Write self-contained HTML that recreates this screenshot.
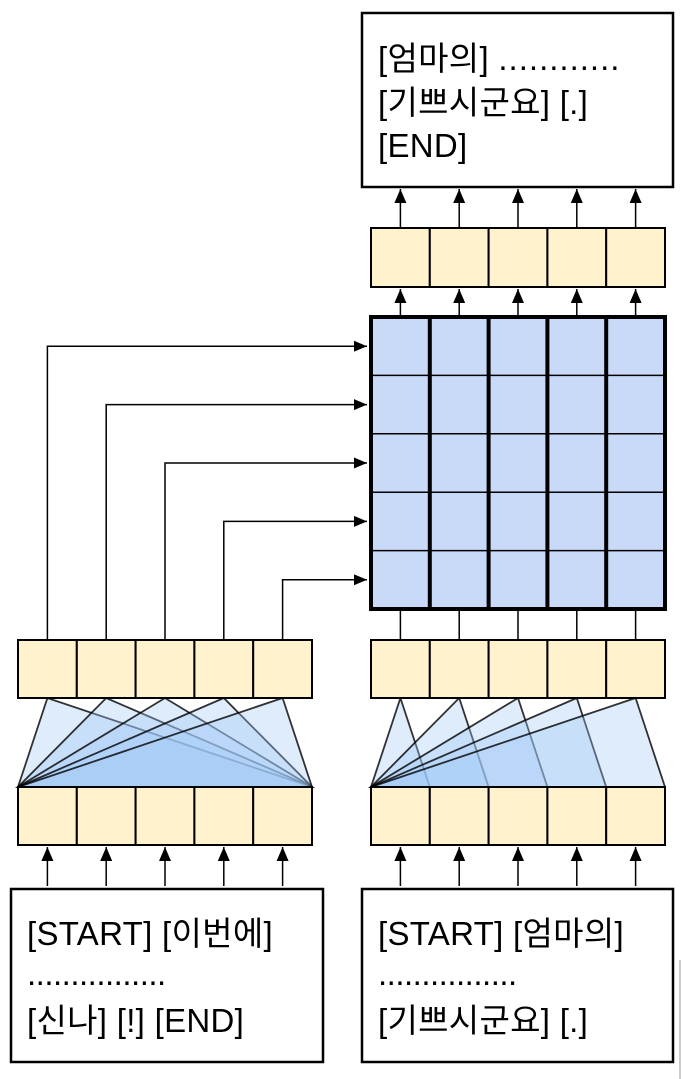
<!DOCTYPE html>
<html><head><meta charset="utf-8"><style>
html,body{margin:0;padding:0;background:#fff;}
svg{display:block}
text{font-family:"Liberation Sans","Noto Sans CJK KR",sans-serif;font-size:33px;fill:#000;letter-spacing:0.3px}
</style></head><body>
<svg id="s" width="683" height="1079" viewBox="0 0 683 1079" xmlns="http://www.w3.org/2000/svg">
<defs><marker id="ah" markerWidth="12" markerHeight="14" refX="6" refY="0" orient="0" markerUnits="userSpaceOnUse" viewBox="0 0 12 14"><path d="M0,14 L6,0 L12,14 Z" fill="#000"/></marker>
<marker id="ar" markerWidth="13" markerHeight="11" refX="13" refY="5.5" orient="0" markerUnits="userSpaceOnUse" viewBox="0 0 13 11"><path d="M0,0 L13,5.5 L0,11 Z" fill="#000"/></marker></defs>
<line x1="680" y1="960" x2="680" y2="1079" stroke="#ccc" stroke-width="2"/>
<g id="g"></g>
<rect x="362" y="13" width="311" height="174" fill="#fff" stroke="#000" stroke-width="2.5"/>
<text><tspan x="378" y="70">[엄마의] <tspan letter-spacing="1">............</tspan></tspan><tspan x="378" y="114">[기쁘시군요] [.]</tspan><tspan x="378" y="157">[END]</tspan></text>
<rect x="11" y="889" width="312" height="173" fill="#fff" stroke="#000" stroke-width="2.5"/>
<text><tspan x="27" y="945">[START] [이번에]</tspan><tspan x="27" y="985" letter-spacing="-0.5">................</tspan><tspan x="27" y="1032">[신나] [!] [END]</tspan></text>
<rect x="362" y="889" width="311" height="173" fill="#fff" stroke="#000" stroke-width="2.5"/>
<text><tspan x="378" y="945">[START] [엄마의]</tspan><tspan x="378" y="985" letter-spacing="-0.5">................</tspan><tspan x="378" y="1032">[기쁘시군요] [.]</tspan></text>
</svg>
<script>
const NS="http://www.w3.org/2000/svg";
const g=document.getElementById('g');
function el(t,a){const e=document.createElementNS(NS,t);for(const k in a)e.setAttribute(k,a[k]);g.appendChild(e);return e;}
const W=58.8, LX=18, RX=371, N=5;
const cx=(x0,i)=>x0+W*i+W/2;
for(let i=0;i<N;i++){
  const p=el('polygon',{points:`${cx(LX,i)},698 ${LX},787 ${LX+W*N},787`,fill:'rgba(160,200,245,0.35)',stroke:'#000','stroke-width':1.8,'stroke-opacity':0.8});
  
  
  const q=el('polygon',{points:`${cx(RX,i)},698 ${RX},787 ${RX+W*(i+1)},787`,fill:'rgba(160,200,245,0.35)',stroke:'#000','stroke-width':1.8,'stroke-opacity':0.8});
  
  
}
function row(x0,y,h,name){
  for(let i=0;i<N;i++){
    const r=el('rect',{x:x0+W*i,y:y,width:W,height:h,fill:'#fff2cc',stroke:'#000','stroke-width':2});
    
    
  }
}
row(LX,640,58,'encoder-output');
row(LX,787,58,'encoder-embedding');
row(RX,640,58,'decoder-self-attention');
row(RX,787,58,'decoder-embedding');
row(RX,228,59,'decoder-output');
const gy=317,gh=292,gw=W*N;
const bg=el('rect',{x:RX,y:gy,width:gw,height:gh,fill:'#c9daf8'});


for(let j=1;j<N;j++) el('line',{x1:RX,x2:RX+gw,y1:gy+gh/N*j,y2:gy+gh/N*j,stroke:'#000','stroke-width':1.5});
for(let i=1;i<N;i++) el('line',{x1:RX+W*i,x2:RX+W*i,y1:gy,y2:gy+gh,stroke:'#000','stroke-width':4});
el('rect',{x:RX,y:gy,width:gw,height:gh,fill:'none',stroke:'#000','stroke-width':4});
for(let i=0;i<N;i++){
  const a=el('line',{x1:cx(LX,i),y1:886,x2:cx(LX,i),y2:847,stroke:'#000','stroke-width':1.5,'marker-end':'url(#ah)'});
  
  
  el('line',{x1:cx(RX,i),y1:886,x2:cx(RX,i),y2:847,stroke:'#000','stroke-width':1.5,'marker-end':'url(#ah)'});
  el('line',{x1:cx(RX,i),y1:640,x2:cx(RX,i),y2:610,stroke:'#000','stroke-width':1.5});
  el('line',{x1:cx(RX,i),y1:315,x2:cx(RX,i),y2:289,stroke:'#000','stroke-width':1.5,'marker-end':'url(#ah)'});
  el('line',{x1:cx(RX,i),y1:228,x2:cx(RX,i),y2:189,stroke:'#000','stroke-width':1.5,'marker-end':'url(#ah)'});
  const yy=gy+gh/N*i+gh/N/2;
  const p=el('polyline',{points:`${cx(LX,i)},640 ${cx(LX,i)},${yy} 367,${yy}`,fill:'none',stroke:'#000','stroke-width':1.5,'marker-end':'url(#ar)'});
  
  
}
</script>
</body></html>
